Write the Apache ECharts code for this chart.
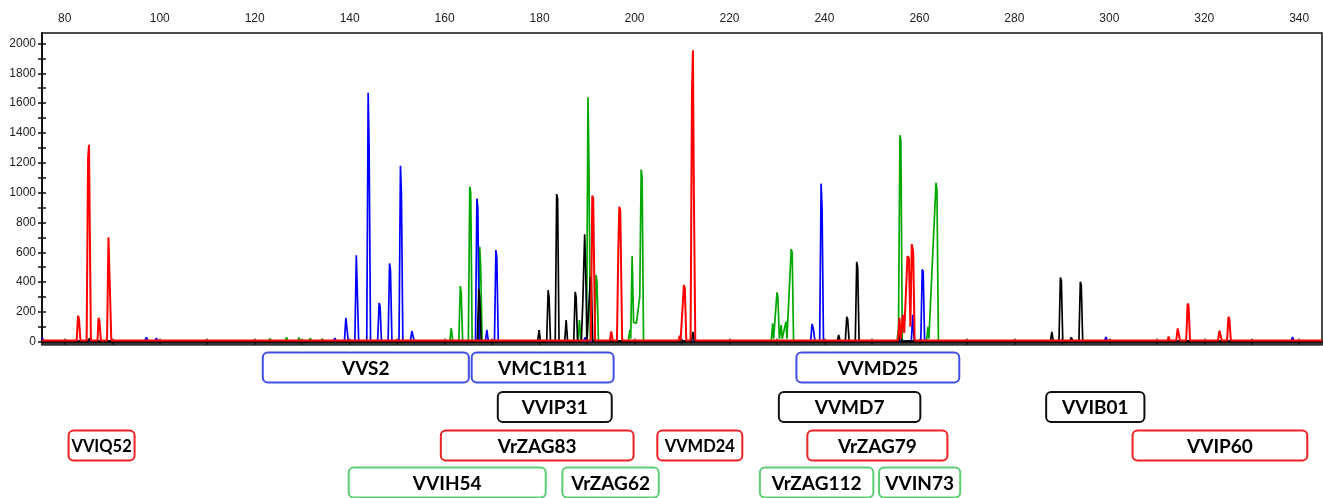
<!DOCTYPE html>
<html>
<head>
<meta charset="utf-8">
<title>SSR electropherogram</title>
<script src="https://cdn.jsdelivr.net/npm/echarts@6.0.0/dist/echarts.min.js"></script>
<style>
html, body { margin: 0; padding: 0; background: #fff; }
#mychart { width: 1323px; height: 498px; }
</style>
</head>
<body>
<div id="mychart"></div>
<script>
// size axis (bp) and RFU axis
var xLabels = [80, 100, 120, 140, 160, 180, 200, 220, 240, 260, 280, 300, 320, 340];
var xTicks = [80, 90, 100, 110, 120, 130, 140, 150, 160, 170, 180, 190, 200, 210, 220, 230, 240, 250, 260, 270, 280, 290, 300, 310, 320, 330, 340];
var yLabels = [0, 200, 400, 600, 800, 1000, 1200, 1400, 1600, 1800, 2000];
var yTicks = [0, 100, 200, 300, 400, 500, 600, 700, 800, 900, 1000, 1100, 1200, 1300, 1400, 1500, 1600, 1700, 1800, 1900, 2000];

// dye traces, [bp, rfu]
var greenTrace = [
    [75.2, 6], [78.0, 6], [78.2, 18], [78.4, 6], [123.0, 6], [123.2, 22], [123.5, 6], [126.5, 6], [126.7, 30], [127.0, 6],
    [129.1, 6], [129.3, 28], [129.6, 6], [131.5, 6], [131.7, 24], [132.0, 6], [134.0, 6], [134.2, 20], [134.5, 6],
    [161.1, 6], [161.4, 92], [161.7, 6],
    [163.0, 6], [163.3, 373], [163.5, 330], [163.8, 6],
    [165.0, 6], [165.3, 1040], [165.5, 1000], [165.8, 6],
    [167.1, 6], [167.4, 637], [167.6, 500], [167.9, 6],
    [188.1, 6], [188.4, 145], [188.7, 6],
    [189.9, 6], [190.2, 1640], [190.4, 1200], [190.7, 6],
    [191.6, 6], [191.9, 447], [192.1, 400], [192.4, 6],
    [198.7, 6], [199.0, 80], [199.2, 20], [199.5, 575], [199.8, 130], [200.4, 125], [201.1, 300], [201.4, 1155], [201.6, 1100], [201.9, 6],
    [228.8, 6], [229.1, 123], [229.3, 20], [230.0, 331], [230.2, 300], [230.5, 20], [230.9, 112], [231.1, 20],
    [231.9, 134], [232.1, 20], [233.0, 621], [233.2, 600], [233.5, 6],
    [255.3, 6], [255.6, 92], [255.9, 1385], [256.1, 1350], [256.4, 6],
    [261.5, 6], [261.8, 100], [262.0, 20], [263.5, 1066], [263.7, 1020], [264.0, 6],
    [316.4, 6], [316.6, 14], [316.8, 6],
    [344.8, 6]
];
var blueTrace = [
    [75.2, 30], [75.6, 5],
    [96.8, 5], [97.2, 30], [97.6, 5], [99.0, 5], [99.3, 25], [99.6, 5],
    [136.6, 5], [136.9, 25], [137.2, 5],
    [138.9, 5], [139.2, 160], [139.4, 150], [139.7, 5],
    [141.1, 5], [141.4, 580], [141.6, 570], [141.9, 5],
    [143.6, 5], [143.9, 1670], [144.1, 1300], [144.4, 5],
    [145.9, 5], [146.2, 260], [146.4, 240], [146.7, 5],
    [148.1, 5], [148.4, 525], [148.6, 480], [148.9, 5],
    [150.4, 5], [150.7, 1180], [150.9, 1000], [151.2, 5],
    [152.8, 5], [153.1, 72], [153.3, 60], [153.6, 5],
    [166.5, 5], [166.8, 960], [167.0, 900], [167.3, 5],
    [168.6, 5], [168.9, 80], [169.2, 5],
    [170.5, 5], [170.8, 615], [171.0, 560], [171.3, 5],
    [189.3, 5], [189.6, 30], [189.9, 5],
    [237.1, 5], [237.4, 120], [237.7, 80], [238.0, 5],
    [239.0, 5], [239.3, 1060], [239.5, 900], [239.8, 5],
    [258.3, 5], [258.6, 180], [258.9, 5],
    [260.3, 5], [260.6, 485], [260.8, 470], [261.1, 5],
    [299.0, 5], [299.3, 31], [299.6, 5],
    [338.3, 5], [338.6, 31], [338.9, 5],
    [344.8, 5]
];
var blackTrace = [
    [75.2, 4], [84.9, 4], [85.2, 22], [85.5, 4],
    [166.9, 4], [167.2, 353], [167.4, 300], [167.7, 4],
    [179.6, 4], [179.9, 78], [180.2, 4],
    [181.5, 4], [181.8, 346], [182.0, 300], [182.3, 4],
    [183.3, 4], [183.6, 990], [183.8, 960], [184.1, 4],
    [185.3, 4], [185.6, 145], [185.9, 4],
    [187.2, 4], [187.5, 335], [187.7, 300], [188.0, 4],
    [188.8, 4], [189.1, 259], [189.5, 720], [189.7, 500], [190.0, 4],
    [190.4, 4], [190.7, 435], [190.9, 400], [191.2, 4],
    [212.0, 4], [212.3, 67], [212.6, 4],
    [242.7, 4], [243.0, 45], [243.3, 4],
    [244.4, 4], [244.7, 168], [244.9, 150], [245.2, 4],
    [246.5, 4], [246.8, 536], [247.0, 500], [247.3, 4],
    [255.7, 4], [256.0, 58], [256.3, 4],
    [287.6, 4], [287.9, 67], [288.2, 4],
    [289.4, 4], [289.7, 430], [289.9, 410], [290.2, 4],
    [291.7, 4], [292.0, 30], [292.3, 4],
    [293.6, 4], [293.9, 402], [294.1, 380], [294.4, 4],
    [344.8, 4]
];
var redTrace = [
    [75.2, 8],
    [82.5, 8], [82.8, 175], [83.0, 150], [83.3, 8],
    [84.6, 8], [84.9, 1230], [85.1, 1320], [85.5, 8],
    [86.9, 8], [87.1, 160], [87.3, 140], [87.6, 8],
    [88.9, 8], [89.2, 700], [89.4, 690], [89.8, 8],
    [190.8, 8], [191.1, 980], [191.3, 960], [191.7, 8],
    [194.8, 8], [195.1, 70], [195.4, 8],
    [196.3, 8], [196.6, 640], [196.8, 905], [197.0, 880], [197.4, 8],
    [209.3, 8], [209.5, 40], [209.7, 8],
    [210.1, 8], [210.4, 380], [210.6, 360], [210.9, 8],
    [211.8, 8], [212.1, 1680], [212.3, 1955], [212.5, 1000], [212.8, 8],
    [255.5, 8], [255.8, 160], [256.1, 20], [256.5, 180], [256.8, 60], [257.5, 575], [257.8, 560], [258.1, 100], [258.4, 655], [258.7, 600], [259.0, 8],
    [312.3, 8], [312.5, 35], [312.7, 8],
    [314.1, 8], [314.4, 90], [314.6, 80], [314.9, 8],
    [316.2, 8], [316.5, 257], [316.7, 240], [317.0, 8],
    [322.9, 8], [323.2, 74], [323.4, 65], [323.7, 8],
    [324.8, 8], [325.1, 168], [325.3, 150], [325.6, 8],
    [344.8, 8]
];

// marker bins under the plot (bp range of each locus)
var markerNames = ['VVS2', 'VMC1B11', 'VVMD25', 'VVIP31', 'VVMD7', 'VVIB01', 'VVIQ52', 'VrZAG83', 'VVMD24', 'VrZAG79', 'VVIP60', 'VVIH54', 'VrZAG62', 'VrZAG112', 'VVIN73'];
var markerFrom = [121.7, 165.7, 234.1, 171.2, 230.4, 286.7, 80.8, 159.2, 204.8, 236.4, 304.9, 139.8, 184.8, 226.4, 251.5];
var markerTo = [165.1, 195.6, 268.4, 195.2, 260.2, 307.4, 94.7, 199.8, 222.7, 265.9, 341.7, 181.3, 205.1, 250.3, 268.6];
var markerDye = ['blue', 'blue', 'blue', 'black', 'black', 'black', 'red', 'red', 'red', 'red', 'red', 'green', 'green', 'green', 'green'];
var markerRow = [0, 0, 0, 1, 1, 1, 2, 2, 2, 2, 2, 3, 3, 3, 3];

var dyeColor = { red: '#ff0000', blue: '#0000ff', green: '#00a800', black: '#000000' };
var boxColor = { red: '#ee2222', blue: '#3f4fe6', green: '#5ccd72', black: '#111111' };
var rowTop = [352.5, 392, 430.5, 467.5];
var rowHeight = 30;

var myChart = echarts.init(document.getElementById('mychart'));

function traceSeries(name, data) {
    return {
        name: name,
        type: 'line',
        data: data,
        showSymbol: false,
        sampling: false,
        silent: true,
        lineStyle: { color: dyeColor[name], width: name == 'red' ? 2 : 1.7 },
        itemStyle: { color: dyeColor[name] }
    };
}

function plainNumber(v) {
    return String(v);
}

myChart.setOption({
    animation: false,
    backgroundColor: '#fff',
    grid: {
        left: 42,
        right: 1,
        top: 33,
        bottom: 154,
        show: true,
        borderColor: '#111',
        borderWidth: 1.5
    },
    xAxis: [
        {
            type: 'value',
            position: 'top',
            min: 75.2,
            max: 344.8,
            axisLine: { show: true, lineStyle: { color: '#111', width: 2 } },
            axisTick: { show: true, length: 3, customValues: xTicks, lineStyle: { color: '#111', width: 1.5 } },
            axisLabel: { customValues: xLabels, formatter: plainNumber, margin: 8, fontSize: 12, color: '#222', fontFamily: 'Liberation Sans' },
            splitLine: { show: false }
        },
        {
            type: 'value',
            position: 'top',
            min: 75.2,
            max: 344.8,
            axisLine: { show: false },
            axisTick: { show: true, inside: true, length: 3, customValues: xTicks, lineStyle: { color: '#111', width: 1.5 } },
            axisLabel: { show: false },
            splitLine: { show: false }
        },
        {
            type: 'value',
            position: 'bottom',
            min: 75.2,
            max: 344.8,
            axisLine: { show: true, lineStyle: { color: '#333', width: 2.5 } },
            axisTick: { show: false },
            axisLabel: { show: false },
            splitLine: { show: false }
        }
    ],
    yAxis: [
        {
            type: 'value',
            min: -15,
            max: 2070,
            axisLine: { show: true, lineStyle: { color: '#111', width: 2 } },
            axisTick: { show: true, length: 4, customValues: yTicks, lineStyle: { color: '#111', width: 1.5 } },
            axisLabel: { customValues: yLabels, formatter: plainNumber, margin: 6, fontSize: 12, color: '#222', fontFamily: 'Liberation Sans' },
            splitLine: { show: false }
        },
        {
            type: 'value',
            position: 'left',
            min: -15,
            max: 2070,
            axisLine: { show: false },
            axisTick: { show: true, inside: true, length: 4, customValues: yTicks, lineStyle: { color: '#111', width: 1.5 } },
            axisLabel: { show: false },
            splitLine: { show: false }
        }
    ],
    series: [
        traceSeries('green', greenTrace),
        traceSeries('blue', blueTrace),
        traceSeries('black', blackTrace),
        traceSeries('red', redTrace)
    ]
});

// text width check, so a name that would overflow its box gets a smaller font
var measureCtx = document.createElement('canvas').getContext('2d');
function textWidth(text, size) {
    measureCtx.font = 'bold ' + size + 'px Lato';
    return measureCtx.measureText(text).width;
}

// locus boxes, x from the bp scale
function drawMarkers() {
    var items = [];
    markerNames.forEach(function (name, i) {
        var x0 = myChart.convertToPixel({ xAxisIndex: 0 }, markerFrom[i]);
        var x1 = myChart.convertToPixel({ xAxisIndex: 0 }, markerTo[i]);
        var y0 = rowTop[markerRow[i]];
        var size = textWidth(name, 19) > (x1 - x0) - 8 ? 16.5 : 19;
        items.push({
            type: 'rect',
            shape: { x: x0, y: y0, width: x1 - x0, height: rowHeight, r: 5 },
            style: { fill: '#fff', stroke: boxColor[markerDye[i]], lineWidth: 2 },
            silent: true
        });
        items.push({
            type: 'text',
            x: (x0 + x1) / 2,
            y: y0 + rowHeight / 2 + 1,
            style: {
                text: name,
                fill: '#000',
                fontSize: size,
                fontWeight: 'bold',
                fontFamily: 'Lato',
                align: 'center',
                verticalAlign: 'middle'
            },
            silent: true
        });
    });
    myChart.setOption({ graphic: items });
}
drawMarkers();
</script>
</body>
</html>
